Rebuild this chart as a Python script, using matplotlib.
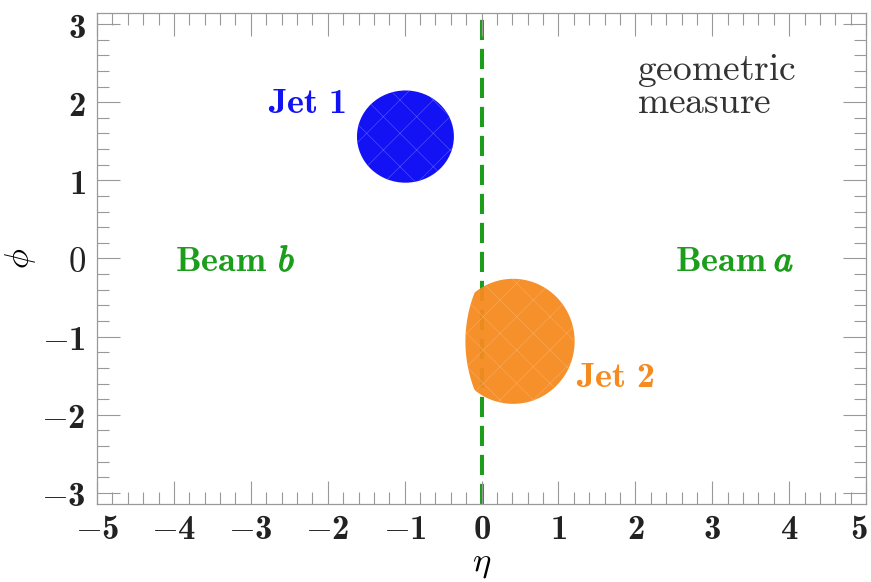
import numpy as np
import matplotlib
matplotlib.use("Agg")
import matplotlib.pyplot as plt
import matplotlib.patheffects as pe
import matplotlib.transforms as mtransforms
from matplotlib.patches import Ellipse, Polygon
from matplotlib.ticker import MultipleLocator

# computer modern with real bold digits
plt.rcParams['mathtext.fontset'] = 'custom'
plt.rcParams['mathtext.rm'] = 'cmr10'
plt.rcParams['mathtext.it'] = 'cmmi10'
plt.rcParams['mathtext.bf'] = 'cmb10'
plt.rcParams['mathtext.fallback'] = 'cm'
plt.rcParams['hatch.linewidth'] = 0.4

# jet 1: disc (centre, half widths)
jet1_center = (-0.99, 1.56)
jet1_radius = (0.63, 0.59)
# jet 2: disc cut on the left by a larger circle
jet2_center = (0.41, -1.06)
jet2_radius = 0.80
jet2_cut_center = (1.48, -1.06)
jet2_cut_radius = 1.69

x_ticks = [-5, -4, -3, -2, -1, 0, 1, 2, 3, 4, 5]
y_ticks = [-3, -2, -1, 0, 1, 2, 3]

blue = '#1212f4'
orange = '#f58a1f'
green = '#1c9e1c'


def lens(c1, r1, c2, r2, n=400):
    # outline of the overlap of two circles
    t = np.linspace(0, 2 * np.pi, n)
    p1 = np.c_[c1[0] + r1 * np.cos(t), c1[1] + r1 * np.sin(t)]
    p2 = np.c_[c2[0] + r2 * np.cos(t), c2[1] + r2 * np.sin(t)]
    p1 = p1[np.hypot(p1[:, 0] - c2[0], p1[:, 1] - c2[1]) <= r2]
    p2 = p2[np.hypot(p2[:, 0] - c1[0], p2[:, 1] - c1[1]) <= r1]
    pts = np.vstack([p1, p2])
    ang = np.arctan2(pts[:, 1] - c1[1], pts[:, 0] - c1[0])
    return pts[np.argsort(ang)]


fig = plt.figure(figsize=(8.71, 5.82), dpi=100)
ax = fig.add_axes([0.1114, 0.134, 0.883, 0.8437])

ax.axvline(0, color=green, lw=2.9, dashes=(5, 2.2), zorder=1)

# faint mesh texture like the triangulated fill of the original
ax.add_patch(Ellipse(jet1_center, 2 * jet1_radius[0], 2 * jet1_radius[1],
                     facecolor=blue, edgecolor='#5a5aff', lw=0, hatch='x', zorder=2))
ax.add_patch(Polygon(lens(jet2_center, jet2_radius, jet2_cut_center, jet2_cut_radius),
                     facecolor=orange, edgecolor='#f9ab66', lw=0, hatch='x',
                     alpha=0.95, zorder=2))

fs = 26
ax.text(-2.27, 1.86, r'$\mathbf{Jet\ 1}$', color=blue, fontsize=fs, ha='center', va='baseline')
ax.text(1.74, -1.65, r'$\mathbf{Jet\ 2}$', color=orange, fontsize=fs, ha='center', va='baseline')

# "Beam" bold + italic beam letter thickened a little
bold_it = [pe.withStroke(linewidth=1.0, foreground=green)]
ax.text(-2.79, -0.16, r'$\mathbf{Beam}$', color=green, fontsize=fs, ha='right', va='baseline')
ax.annotate(r'$b$', xy=(-2.79, -0.16), xytext=(8, 0), textcoords='offset points',
            color=green, fontsize=fs, ha='left', va='baseline', path_effects=bold_it)
ax.text(3.71, -0.16, r'$\mathbf{Beam}$', color=green, fontsize=fs, ha='right', va='baseline')
ax.annotate(r'$a$', xy=(3.71, -0.16), xytext=(5, 0), textcoords='offset points',
            color=green, fontsize=fs, ha='left', va='baseline', path_effects=bold_it)

ax.text(2.02, 2.29, r'$\mathrm{geometric}$', color='#333333', fontsize=27, ha='left', va='baseline')
ax.text(2.02, 1.86, r'$\mathrm{measure}$', color='#333333', fontsize=27, ha='left', va='baseline')

ax.set_xlim(-5, 5)
ax.set_ylim(-np.pi, np.pi)

ax.set_xticks(x_ticks)
ax.set_xticklabels([r'$\mathbf{%d}$' % v for v in x_ticks])
ax.set_yticks(y_ticks)
ax.set_yticklabels([r'$\mathrm{0}$' if v == 0 else r'$\mathbf{%d}$' % v for v in y_ticks])
ax.xaxis.set_minor_locator(MultipleLocator(0.2))
ax.yaxis.set_minor_locator(MultipleLocator(0.2))

ax.tick_params(which='both', direction='in', top=True, right=True, colors='#999999',
               labelcolor='#222222', labelsize=25, width=0.8)
ax.tick_params(which='major', length=16.5)
ax.tick_params(which='minor', length=8.5)
ax.tick_params(axis='x', pad=6)
ax.tick_params(axis='y', pad=8)
for s in ax.spines.values():
    s.set_color('#999999')
    s.set_linewidth(0.9)

# keep the last x label inside the picture
last = ax.get_xticklabels()[-1]
last.set_transform(last.get_transform() + mtransforms.ScaledTranslation(-5 / 72, 0, fig.dpi_scale_trans))

ax.set_xlabel(r'$\eta$', fontsize=25, labelpad=0)
ax.set_ylabel(r'$\phi$', fontsize=24, labelpad=2)

fig.savefig('out.png', dpi=100)
